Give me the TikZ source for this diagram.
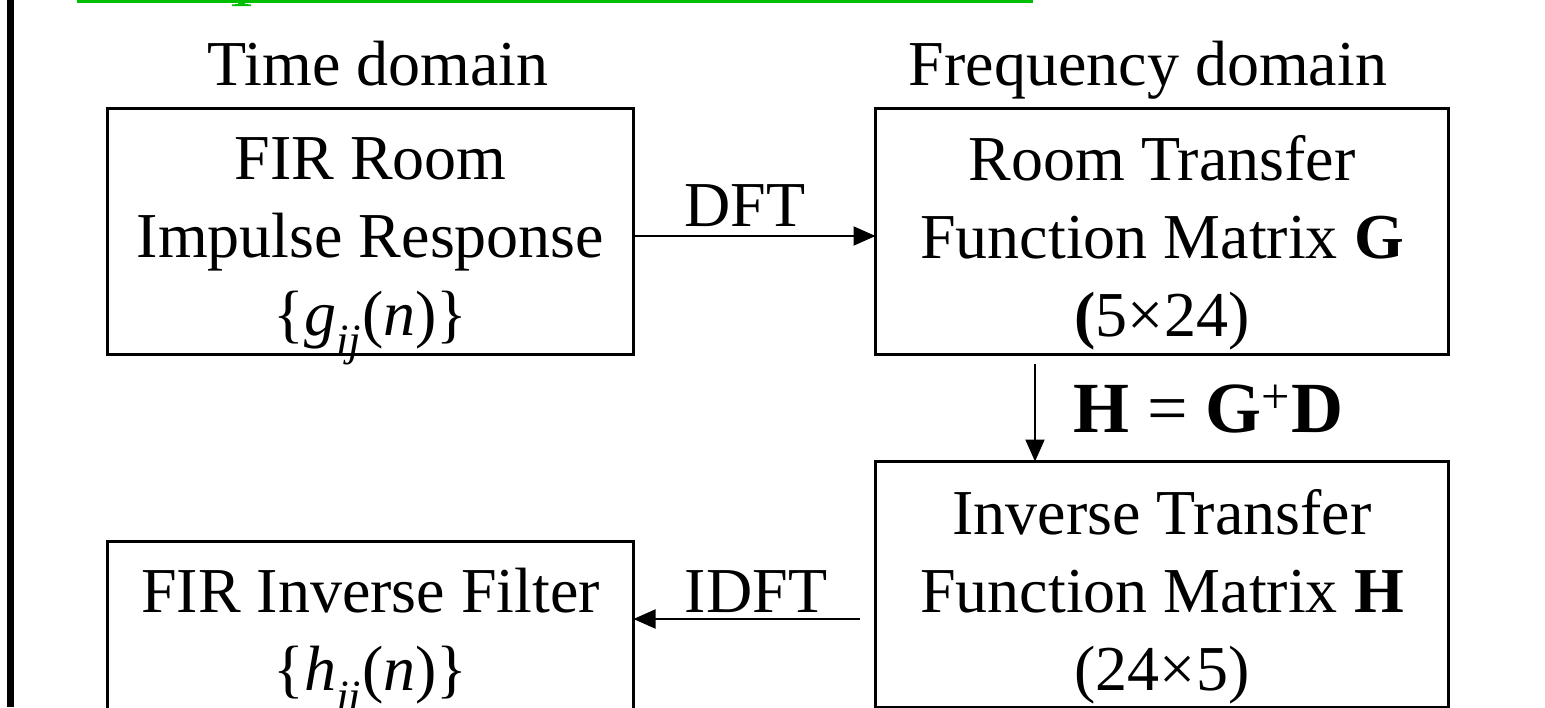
\documentclass[tikz,border=0pt]{standalone}
\usepackage{fontspec}
\setmainfont{Liberation Serif}
\usetikzlibrary{arrows.meta}
\definecolor{grn}{RGB}{0,190,0}
\newcommand\boxtext[3]{\parbox[c][123pt][t]{#1}{\centering\vspace*{#2}#3\par}}
\newcommand\lowsub[1]{\raisebox{-0.12em}{\textsubscript{#1}}}
\begin{document}
\begin{tikzpicture}[x=0.5pt,y=-0.5pt,
  box/.style={draw,line width=1.5pt,outer sep=0pt,inner sep=0pt,
    font=\fontsize{32}{39}\selectfont,anchor=north west},
  arr/.style={line width=1pt,-{Triangle[length=11pt,width=9.5pt]}},
  lbl/.style={font=\fontsize{32}{39}\selectfont,inner sep=0pt,anchor=base},
  blbl/.style={font=\fontsize{36}{43}\selectfont,inner sep=0pt,anchor=base}]
\useasboundingbox (0,0) rectangle (1545,707);
\clip (0,0) rectangle (1545,707);
% left bar and green underline
\fill (7,0) rectangle (14,707);
\fill[grn] (77,0) rectangle (1033,2.5);
\fill[grn] (238,0) -- (245,0) -- (245,4) -- (251,4.5) -- (251,6) -- (232,6) -- (232,4.5) -- (238,4) -- cycle;
% headers
\node[lbl] (th) at (378,85) {Time domain};
\node[lbl] (fh) at (1148,85) {Frequency domain};
% boxes
\node[box] (A) at (107.5,108.5)
  {\boxtext{263pt}{14.5pt}{FIR Room\\Impulse Response\\\{\textit{g}\lowsub{\textit{ij}}(\textit{n})\}}};
\node[box] (B) at (875.5,108.5)
  {\boxtext{286.5pt}{13.5pt}{Room Transfer\\Function Matrix \textbf{G}\\\textbf{(}5×24)}};
\node[box] (C) at (875.5,461.5)
  {\boxtext{286.5pt}{14pt}{Inverse Transfer\\Function Matrix \textbf{H}\\(24×5)}};
\node[box] (D) at (107.5,541.5)
  {\boxtext{263pt}{13.5pt}{FIR Inverse Filter\\\{\textit{h}\lowsub{\textit{ji}}(\textit{n})\}}};
% connectors
\draw[arr] ([yshift=-2.25pt]A.east) -- ([yshift=-2.25pt]B.west);
\node[lbl] (dft) at (745,226) {DFT};
\draw[arr] ([xshift=-63.5pt,yshift=-4.5pt]B.south) -- ([xshift=-63.5pt]C.north);
\node[blbl] (eq) at (1208,432) {\textbf{H} = \textbf{G}\textsuperscript{+}\textbf{D}};
\coordinate (iy) at (0,619);
\draw[arr] ([xshift=-8pt]C.west |- iy) -- (D.east |- iy);
\node[lbl] (idft) at (756,612) {IDFT};
\end{tikzpicture}
\end{document}
